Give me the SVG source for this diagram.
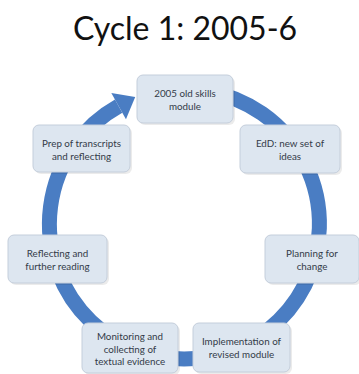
<svg xmlns="http://www.w3.org/2000/svg" width="359" height="374" viewBox="0 0 359 374">
<defs>
<style>
.title{font-family:Lato,"Liberation Sans",sans-serif;font-size:32px;fill:#111;text-anchor:middle}
.box{fill:#dde6f0;stroke:#c4cedb;stroke-width:1}
.sh{fill:#000;opacity:0.08}
.lbl{font-family:Lato,"Liberation Sans",sans-serif;font-size:9.8px;fill:#333b48;text-anchor:middle}
.ring{fill:none;stroke:#4a7dc3;stroke-width:15}
</style>
</defs>
<rect width="359" height="374" fill="#fff"/>
<text class="title" x="185" y="40">Cycle 1: 2005-6</text>
<g id="connectors">
<path class="ring" d="M207.9 91.1 A135 135 0 1 1 118.63 106.16"/>
<polygon points="125.95,119.25 111.31,93.07 135.2,96.9" fill="#4a7dc3"/>
</g>
<g id="n1">
<rect class="sh" x="139" y="77" width="96" height="48" rx="6"/>
<rect class="box" x="137" y="75" width="96" height="48" rx="6"/>
<text class="lbl" x="185" y="97">2005 old skills</text>
<text class="lbl" x="185" y="110">module</text>
</g>
<g id="n2">
<rect class="sh" x="242" y="127" width="100" height="48" rx="6"/>
<rect class="box" x="240" y="125" width="100" height="48" rx="6"/>
<text class="lbl" x="290" y="147">EdD: new set of</text>
<text class="lbl" x="290" y="160">ideas</text>
</g>
<g id="n3">
<rect class="sh" x="267" y="237" width="94" height="48" rx="6"/>
<rect class="box" x="265" y="235" width="94" height="48" rx="6"/>
<text class="lbl" x="312" y="257">Planning for</text>
<text class="lbl" x="312" y="270">change</text>
</g>
<g id="n4">
<rect class="sh" x="195" y="325" width="97" height="49" rx="6"/>
<rect class="box" x="193" y="323" width="97" height="49" rx="6"/>
<text class="lbl" x="241.5" y="345">Implementation of</text>
<text class="lbl" x="241.5" y="358">revised module</text>
</g>
<g id="n5">
<rect class="sh" x="84" y="325" width="96" height="50" rx="6"/>
<rect class="box" x="82" y="323" width="96" height="50" rx="6"/>
<text class="lbl" x="130" y="340">Monitoring and</text>
<text class="lbl" x="130" y="352.5">collecting of</text>
<text class="lbl" x="130" y="365">textual evidence</text>
</g>
<g id="n6">
<rect class="sh" x="10" y="237" width="99" height="48" rx="6"/>
<rect class="box" x="8" y="235" width="99" height="48" rx="6"/>
<text class="lbl" x="57.5" y="257">Reflecting and</text>
<text class="lbl" x="57.5" y="270">further reading</text>
</g>
<g id="n7">
<rect class="sh" x="35" y="127" width="97" height="47" rx="6"/>
<rect class="box" x="33" y="125" width="97" height="47" rx="6"/>
<text class="lbl" x="81.5" y="147">Prep of transcripts</text>
<text class="lbl" x="81.5" y="160">and reflecting</text>
</g>
</svg>
